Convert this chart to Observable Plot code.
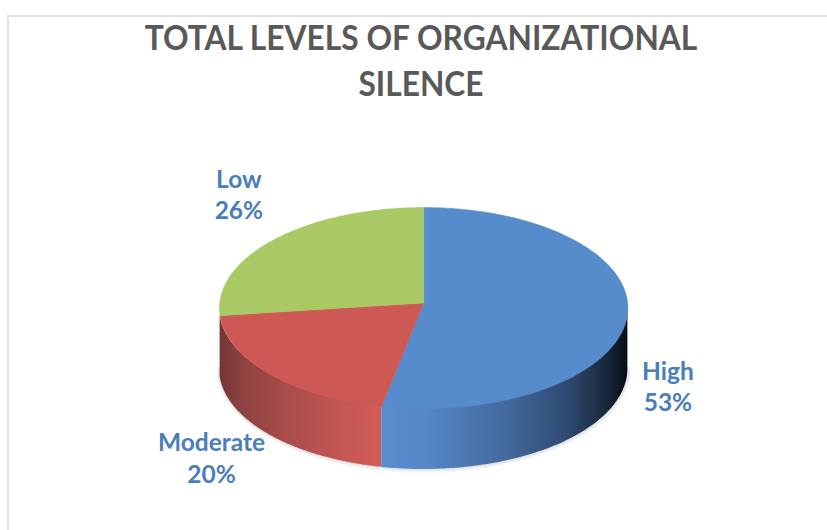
<!DOCTYPE html>
<html>
<head>
<meta charset="utf-8">
<script src="https://cdn.jsdelivr.net/npm/d3@7"></script>
<script src="https://cdn.jsdelivr.net/npm/@observablehq/plot@0.6"></script>
<style>
  html, body { margin: 0; padding: 0; background: #fff; }
  #page { position: relative; width: 827px; height: 530px; overflow: hidden; }
  #frame { position: absolute; left: 7px; top: 15px; width: 830px; height: 530px;
           border-left: 2px solid #e2e2e2; border-top: 2px solid #e2e2e2; pointer-events: none; }
  #title { position: absolute; left: 0; top: 14px; width: 842px; margin: 0; text-align: center;
           font: 700 34px/46px Lato, sans-serif; color: #595959;
           transform: scaleX(0.933); transform-origin: 421px 0; }
  #chart { position: absolute; left: 0; top: 110px; }
  svg { display: block; }
</style>
</head>
<body>
<div id="page">
  <div id="frame"></div>
  <h1 id="title">TOTAL LEVELS OF ORGANIZATIONAL<br>SILENCE</h1>
  <div id="chart"></div>
</div>
<script>
const categories = ["High", "Moderate", "Low"];
const shares = [53.3, 20.49, 26.21];
const topColors = ["#568bcc", "#cd5854", "#a8c963"];
const highStops = [[0, "#5a8dd0"], [0.2, "#5585c4"], [0.5, "#436a9e"], [0.75, "#2f4b72"], [0.93, "#162436"], [1, "#070c12"]];
const moderateStops = [[0, "#713635"], [0.12, "#8a4140"], [0.4, "#a84c4a"], [0.75, "#c45755"], [1, "#d25c59"]];
const labelX = [1.196, -1.039, -0.905];
const labelY = [0.38, 0.73, -0.56];

const pxPerUnit = 204.2, centerX = 423.2, centerY = 307.5, svgTop = 110, svgHeight = 420;
const tilt = 100.5 / pxPerUnit, depth = 61 / pxPerUnit, apexY = -5 / pxPerUnit;

const total = d3.sum(shares);
let running = 0;
const slices = categories.map((name, i) => {
  const a0 = running / total * 2 * Math.PI;
  running += shares[i];
  const a1 = running / total * 2 * Math.PI;
  return {name, a0, a1, share: shares[i], color: topColors[i]};
});
const onRim = a => ({x: Math.sin(a), y: -Math.cos(a) * tilt});
const arc = (a0, a1) => d3.range(0, 121).map(k => onRim(a0 + (a1 - a0) * k / 120));
const apex = {x: 0, y: apexY};
const sector = s => [apex, ...arc(s.a0, s.a1), apex];
const wall = (a0, a1) => arc(a0, a1).map(p => ({x: p.x, y1: p.y, y2: p.y + depth}));

const gradient = (id, stops) => () => {
  const defs = d3.create("svg:defs");
  const g = defs.append("linearGradient").attr("id", id)
    .attr("x1", 0).attr("x2", 1).attr("y1", 0).attr("y2", 0);
  stops.forEach(([o, c]) => g.append("stop").attr("offset", o).attr("stop-color", c));
  return defs.node();
};

const [high, moderate] = slices;
const lowerRim = arc(Math.PI / 2, 3 * Math.PI / 2).map(p => ({x: p.x, y: p.y + depth}));
const labelRows = slices.map((s, i) => ({
  x: labelX[i], y: labelY[i], text: `${s.name}\n${Math.round(s.share)}%`
}));

const plot = Plot.plot({
  width: 827, height: svgHeight,
  margin: 0,
  x: {axis: null, domain: [-centerX / pxPerUnit, (827 - centerX) / pxPerUnit], range: [0, 827]},
  y: {axis: null, domain: [(svgTop - centerY) / pxPerUnit, (svgTop + svgHeight - centerY) / pxPerUnit], range: [0, svgHeight]},
  marks: [
    gradient("wall-high", highStops),
    gradient("wall-moderate", moderateStops),
    ...[7, 4, 2].map(w => Plot.line(lowerRim, {x: "x", y: "y", stroke: "#000", strokeOpacity: 0.035, strokeWidth: w})),
    Plot.areaY(wall(moderate.a0, moderate.a1), {x: "x", y1: "y1", y2: "y2", fill: "url(#wall-moderate)"}),
    Plot.areaY(wall(Math.PI / 2, high.a1), {x: "x", y1: "y1", y2: "y2", fill: "url(#wall-high)"}),
    ...slices.map(s => Plot.line(sector(s), {x: "x", y: "y", fill: s.color, stroke: s.color, strokeWidth: 0.5})),
    Plot.text(labelRows, {
      x: "x", y: "y", text: "text", fill: "#4a7ebb",
      fontFamily: "Lato, sans-serif", fontWeight: 700, fontSize: 24.5, lineHeight: 1.27
    })
  ]
});
document.getElementById("chart").appendChild(plot);
</script>
</body>
</html>
